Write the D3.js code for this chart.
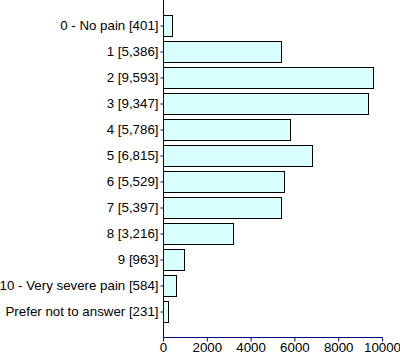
<!DOCTYPE html>
<html>
<head>
<meta charset="utf-8">
<script src="https://cdn.jsdelivr.net/npm/d3@7"></script>
<style>
  body { margin: 0; background: #fff; }
  svg { display: block; }
  text { font-family: "Liberation Sans", Arial, sans-serif; }
</style>
</head>
<body>
<div id="chart"></div>
<script>
// categories and counts
var categories = [
  "0 - No pain [401]", "1 [5,386]", "2 [9,593]", "3 [9,347]", "4 [5,786]",
  "5 [6,815]", "6 [5,529]", "7 [5,397]", "8 [3,216]", "9 [963]",
  "10 - Very severe pain [584]", "Prefer not to answer [231]"
];
var counts = [401, 5386, 9593, 9347, 5786, 6815, 5529, 5397, 3216, 963, 584, 231];
var xTicks = [0, 2000, 4000, 6000, 8000, 10000];

var W = 400, H = 364;
var left = 163, right = 382, axisY = 337;

var svg = d3.select("#chart").append("svg")
  .attr("width", W).attr("height", H);

var x = d3.scaleLinear().domain([0, 10000]).range([left, right]);
var y = d3.scaleBand().domain(categories).range([13, 325]).paddingInner(0.15).paddingOuter(0.075);

var data = categories.map(function(c, i) { return { cat: c, val: counts[i] }; });

// bars
svg.selectAll(".bar")
  .data(data)
  .enter()
  .append("rect")
  .attr("class", "bar")
  .attr("x", x(0) + 0.5)
  .attr("y", function(d) { return Math.round(y(d.cat)) + 0.5; })
  .attr("width", function(d) { return Math.max(0, Math.round(x(d.val) - x(0))); })
  .attr("height", Math.round(y.bandwidth()) - 1)
  .attr("fill", "#d9ffff")
  .attr("stroke", "#000")
  .attr("stroke-width", 1);

// y axis
var yAxis = svg.append("g")
  .attr("transform", "translate(" + (left + 0.5) + ",0)")
  .call(d3.axisLeft(y).tickSize(3).tickPadding(2));
yAxis.select(".domain").attr("d", "M0,0V" + (axisY + 0.5)).attr("stroke", "#000080");
yAxis.selectAll(".tick line").attr("stroke", "#000080");
yAxis.selectAll(".tick text").attr("font-size", 13.3).attr("fill", "#000")
  .attr("font-family", "'Liberation Sans', Arial, sans-serif");

// x axis
var xAxis = svg.append("g")
  .attr("transform", "translate(0," + (axisY + 0.5) + ")")
  .call(d3.axisBottom(x).tickValues(xTicks).tickFormat(d3.format("d")).tickSize(4).tickPadding(1));
xAxis.select(".domain").attr("d", "M" + left + ",0H" + (right + 0.5)).attr("stroke", "#000080");
xAxis.selectAll(".tick line").attr("stroke", "#000080");
xAxis.selectAll(".tick text").attr("font-size", 13.3).attr("fill", "#000")
  .attr("font-family", "'Liberation Sans', Arial, sans-serif");
</script>
</body>
</html>
